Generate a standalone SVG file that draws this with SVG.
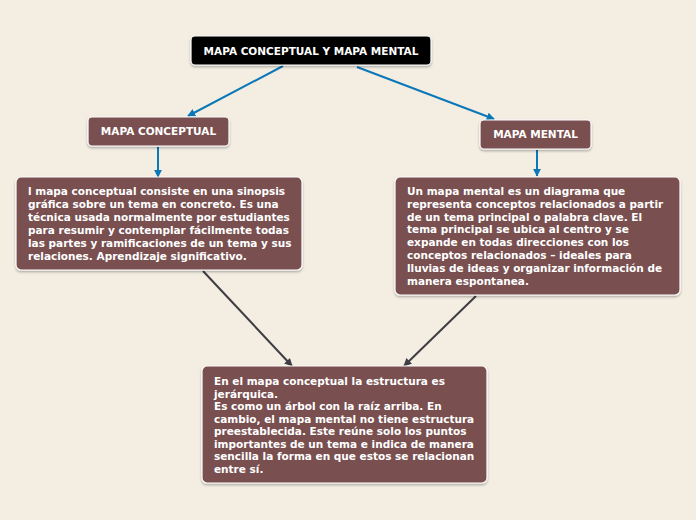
<svg xmlns="http://www.w3.org/2000/svg" width="696" height="520" viewBox="0 0 696 520">
<defs>
<marker id="ab" viewBox="0 0 10 10" refX="9" refY="5" markerWidth="8" markerHeight="8" orient="auto" markerUnits="userSpaceOnUse"><path d="M0,0 L10,5 L0,10 z" fill="#0a78b8"/></marker>
<marker id="ag" viewBox="0 0 10 10" refX="9" refY="5" markerWidth="8" markerHeight="8" orient="auto" markerUnits="userSpaceOnUse"><path d="M0,0 L10,5 L0,10 z" fill="#3d3d42"/></marker>
<filter id="sh" x="-10%" y="-10%" width="120%" height="130%"><feDropShadow dx="0" dy="1.5" stdDeviation="1.2" flood-color="#000" flood-opacity="0.3"/></filter>
</defs>
<style>
text{font-family:"DejaVu Sans",Verdana,sans-serif;font-weight:bold;fill:#ffffff;font-size:10.5px}
.box{fill:#795050;stroke:#ffffff;stroke-width:1.2;filter:url(#sh)}
.root{fill:#000000;stroke:#ffffff;stroke-width:1.2;filter:url(#sh)}
.blue{stroke:#0a78b8;stroke-width:2;fill:none}
.grey{stroke:#3d3d42;stroke-width:2;fill:none}
.c{text-anchor:middle}
</style>
<rect width="696" height="520" fill="#f3ede2"/>
<g id="connectors">
<line class="blue" x1="283" y1="66" x2="188" y2="116" marker-end="url(#ab)"/>
<line class="blue" x1="357" y1="67" x2="494" y2="119" marker-end="url(#ab)"/>
<line class="blue" x1="158" y1="147" x2="158" y2="177" marker-end="url(#ab)"/>
<line class="blue" x1="537" y1="150" x2="537" y2="176" marker-end="url(#ab)"/>
<line class="grey" x1="203" y1="271" x2="292" y2="366" marker-end="url(#ag)"/>
<line class="grey" x1="476" y1="296" x2="404" y2="366" marker-end="url(#ag)"/>
</g>
<g id="root">
<rect class="root" x="191" y="36" width="240" height="29" rx="4"/>
<text class="c" x="311" y="54.5">MAPA CONCEPTUAL Y MAPA MENTAL</text>
</g>
<g id="mapa-conceptual">
<rect class="box" x="88" y="117" width="141" height="29" rx="4"/>
<text class="c" x="158.5" y="135">MAPA CONCEPTUAL</text>
</g>
<g id="mapa-mental">
<rect class="box" x="480" y="120" width="111" height="29" rx="4"/>
<text class="c" x="535.5" y="138">MAPA MENTAL</text>
</g>
<g id="def-conceptual">
<rect class="box" x="16" y="177" width="286" height="93" rx="5"/>
<text x="28" y="195">l mapa conceptual consiste en una sinopsis</text>
<text x="28" y="208">gráfica sobre un tema en concreto. Es una</text>
<text x="28" y="221">técnica usada normalmente por estudiantes</text>
<text x="28" y="234">para resumir y contemplar fácilmente todas</text>
<text x="28" y="247">las partes y ramificaciones de un tema y sus</text>
<text x="28" y="260">relaciones. Aprendizaje significativo.</text>
</g>
<g id="def-mental">
<rect class="box" x="395" y="177" width="285" height="118" rx="5"/>
<text x="407" y="195">Un mapa mental es un diagrama que</text>
<text x="407" y="207.8">representa conceptos relacionados a partir</text>
<text x="407" y="220.6">de un tema principal o palabra clave. El</text>
<text x="407" y="233.4">tema principal se ubica al centro y se</text>
<text x="407" y="246.2">expande en todas direcciones con los</text>
<text x="407" y="259">conceptos relacionados – ideales para</text>
<text x="407" y="271.8">lluvias de ideas y organizar información de</text>
<text x="407" y="284.6">manera espontanea.</text>
</g>
<g id="comparacion">
<rect class="box" x="202" y="366" width="285" height="117" rx="5"/>
<text x="214" y="385">En el mapa conceptual la estructura es</text>
<text x="214" y="397.5">jerárquica.</text>
<text x="214" y="410">Es como un árbol con la raíz arriba. En</text>
<text x="214" y="422.5">cambio, el mapa mental no tiene estructura</text>
<text x="214" y="435">preestablecida. Este reúne solo los puntos</text>
<text x="214" y="447.5">importantes de un tema e indica de manera</text>
<text x="214" y="460">sencilla la forma en que estos se relacionan</text>
<text x="214" y="472.5">entre sí.</text>
</g>
</svg>
